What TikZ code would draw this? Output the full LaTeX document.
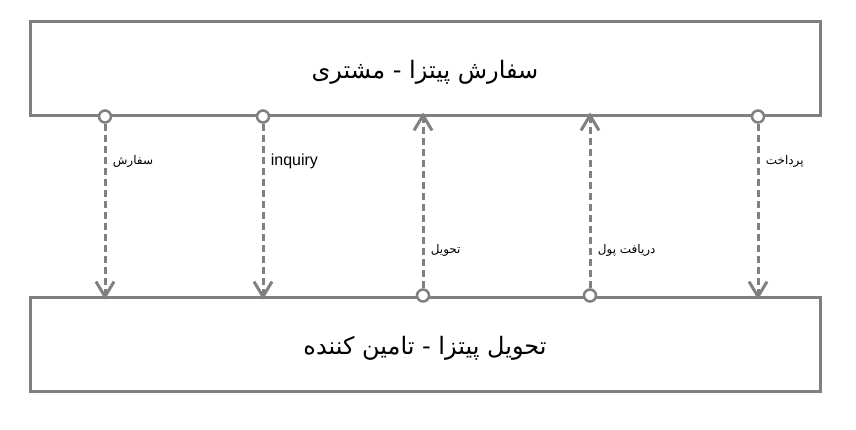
\documentclass[tikz,border=0pt]{standalone}
\usepackage{fontspec}
\setmainfont{Liberation Sans}
\newfontfamily\arabicfont[Script=Arabic]{DejaVu Sans}
\TeXXeTstate=1
\usetikzlibrary{arrows.meta}

\begin{document}
\begin{tikzpicture}[x=1pt, y=-1pt, line width=3pt,
    box/.style={draw=gray, minimum width=790pt, minimum height=94pt, text height=22pt, text depth=2pt, font=\arabicfont\fontsize{24}{28}\selectfont},
    port/.style={circle, draw=gray, fill=white, line width=2.5pt, inner sep=0pt, minimum size=12pt},
    msg/.style={draw=gray, dash pattern=on 7pt off 4pt, -{Straight Barb[length=15pt,width=18pt]}, shorten >=-4pt},
    lbl/.style={font=\arabicfont\fontsize{12}{14}\selectfont, pos=0.22, right, xshift=3pt}]
  \useasboundingbox (0,0) rectangle (856,429);

  \node[box] (cust) at (425,68) {\beginR سفارش پیتزا - مشتری\endR};
  \node[box] (supp) at (425,344) {\beginR تحویل پیتزا - تامین کننده\endR};

  \foreach \x/\n in {105/a, 263/b, 758/e} {
    \node[port] (p\n) at (cust.south -| \x,0) {};
    \coordinate (t\n) at (supp.north -| \x,0);
  }
  \foreach \x/\n in {423/c, 590/d} {
    \node[port] (p\n) at (supp.north -| \x,0) {};
    \coordinate (t\n) at (cust.south -| \x,0);
  }

  \draw[msg] (pa) -- node[lbl] {\beginR سفارش\endR} (ta);
  \draw[msg] (pb) -- node[lbl, font=\fontsize{16}{18}\selectfont] {inquiry} (tb);
  \draw[msg] (pc) -- node[lbl] {\beginR تحویل\endR} (tc);
  \draw[msg] (pd) -- node[lbl] {\beginR دریافت پول\endR} (td);
  \draw[msg] (pe) -- node[lbl] {\beginR پرداخت\endR} (te);
\end{tikzpicture}
\end{document}
